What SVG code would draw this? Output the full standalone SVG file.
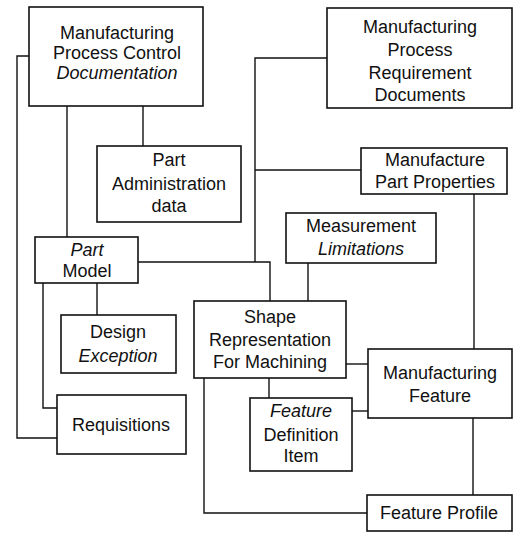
<svg xmlns="http://www.w3.org/2000/svg" width="515" height="534" viewBox="0 0 515 534">
<style>
.box{fill:#fff;stroke:#111;stroke-width:1.6}
.con{fill:none;stroke:#111;stroke-width:1.4}
text{font-family:"Liberation Sans",Arial,sans-serif;font-size:18px;fill:#111;text-anchor:middle}
.i{font-style:italic}
</style>
<rect width="515" height="534" fill="#fff"/>
<g id="connectors">
<path class="con" d="M29,56 H17 V438 H57"/>
<path class="con" d="M67,106 V237"/>
<path class="con" d="M143,106 V146"/>
<path class="con" d="M43,283 V408 H57"/>
<path class="con" d="M97,283 V315"/>
<path class="con" d="M138,262 H270 V301"/>
<path class="con" d="M327,58 H255 V262"/>
<path class="con" d="M255,170 H361"/>
<path class="con" d="M308,263 V301"/>
<path class="con" d="M474,194 V349"/>
<path class="con" d="M346,364 H368"/>
<path class="con" d="M352,411 H368"/>
<path class="con" d="M269,378 V398"/>
<path class="con" d="M204,378 V513 H367"/>
<path class="con" d="M473,418 V495"/>
</g>
<g id="mpcd">
<rect class="box" x="29" y="7" width="174" height="99"/>
<text x="117" y="39">Manufacturing</text>
<text x="117" y="59">Process Control</text>
<text x="117" y="79" class="i">Documentation</text>
</g>
<g id="mprd">
<rect class="box" x="327" y="8" width="185" height="100"/>
<text x="420" y="33">Manufacturing</text>
<text x="420" y="56">Process</text>
<text x="420" y="79">Requirement</text>
<text x="420" y="101">Documents</text>
</g>
<g id="partadmin">
<rect class="box" x="97" y="146" width="144" height="76"/>
<text x="169" y="166">Part</text>
<text x="169" y="190">Administration</text>
<text x="169" y="212">data</text>
</g>
<g id="mpp">
<rect class="box" x="361" y="148" width="146" height="46"/>
<text x="435" y="166">Manufacture</text>
<text x="435" y="188">Part Properties</text>
</g>
<g id="measurement">
<rect class="box" x="286" y="213" width="150" height="50"/>
<text x="361" y="232">Measurement</text>
<text x="361" y="255" class="i">Limitations</text>
</g>
<g id="partmodel">
<rect class="box" x="35" y="237" width="103" height="46"/>
<text x="87" y="256" class="i">Part</text>
<text x="87" y="277">Model</text>
</g>
<g id="design">
<rect class="box" x="61" y="315" width="115" height="58"/>
<text x="118" y="338">Design</text>
<text x="118" y="362" class="i">Exception</text>
</g>
<g id="shape">
<rect class="box" x="194" y="301" width="152" height="77"/>
<text x="270" y="323">Shape</text>
<text x="270" y="346">Representation</text>
<text x="270" y="368">For Machining</text>
</g>
<g id="mfgfeature">
<rect class="box" x="368" y="349" width="144" height="69"/>
<text x="440" y="379">Manufacturing</text>
<text x="440" y="402">Feature</text>
</g>
<g id="featuredef">
<rect class="box" x="250" y="398" width="102" height="73"/>
<text x="301" y="417" class="i">Feature</text>
<text x="301" y="441">Definition</text>
<text x="301" y="462">Item</text>
</g>
<g id="requisitions">
<rect class="box" x="57" y="395" width="129" height="59"/>
<text x="121" y="431">Requisitions</text>
</g>
<g id="featureprofile">
<rect class="box" x="367" y="495" width="145" height="36"/>
<text x="439" y="519">Feature Profile</text>
</g>
</svg>
